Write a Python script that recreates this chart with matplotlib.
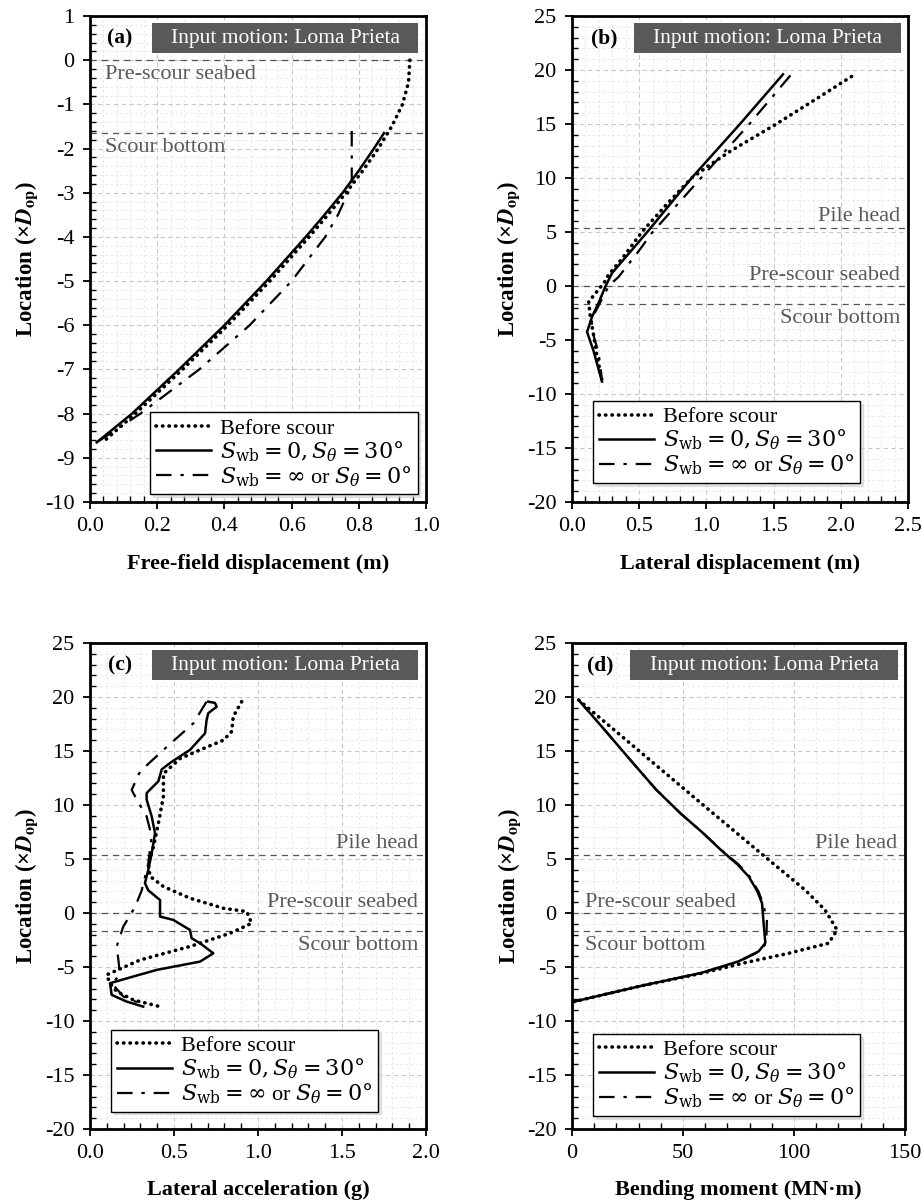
import numpy as np
import matplotlib
matplotlib.use("Agg")
import matplotlib.pyplot as plt
from matplotlib.patches import Rectangle
from matplotlib.ticker import MultipleLocator, FormatStrFormatter
from matplotlib.font_manager import FontProperties
import matplotlib.transforms as mtransforms

plt.rcParams["font.family"] = ["Liberation Serif", "DejaVu Serif"]
plt.rcParams["mathtext.fontset"] = "stix"
plt.rcParams["axes.unicode_minus"] = False

# ---- data (location in x D_op, response value) ----
# (a) free-field displacement (m)
a_before_y = [0.0, -0.5, -1.0, -1.5, -2.0, -2.5, -3.0, -3.5, -4.0, -5.0, -6.0, -7.0, -8.0, -8.6]
a_before_x = [0.952, 0.948, 0.930, 0.898, 0.858, 0.812, 0.762, 0.708, 0.652, 0.535, 0.41, 0.275, 0.135, 0.045]
a_scour_y = [-1.65, -2.0, -2.5, -3.0, -3.5, -4.0, -5.0, -6.0, -7.0, -8.0, -8.65]
a_scour_x = [0.875, 0.845, 0.80, 0.752, 0.698, 0.642, 0.525, 0.40, 0.265, 0.125, 0.02]
a_noscour_y = [-1.6, -2.75, -3.0, -3.5, -4.0, -5.0, -6.0, -7.0, -8.0, -8.65]
a_noscour_x = [0.779, 0.779, 0.768, 0.738, 0.70, 0.60, 0.475, 0.325, 0.15, 0.02]

# (b) lateral displacement (m)
b_before_y = [19.4, 17.5, 15.0, 13.75, 12.5, 11.25, 10.0, 7.5, 5.0, 2.5, 1.0, 0.25, -1.45, -2.85, -4.5, -6.5, -8.7]
b_before_x = [2.08, 1.84, 1.52, 1.35, 1.18, 1.03, 0.89, 0.70, 0.52, 0.37, 0.27, 0.236, 0.124, 0.136, 0.16, 0.186, 0.223]
b_scour_y = [19.6, 15.0, 10.0, 5.0, 1.2, 0.0, -1.5, -2.85, -4.25, -6.0, -8.85]
b_scour_x = [1.57, 1.25, 0.89, 0.56, 0.298, 0.25, 0.20, 0.149, 0.112, 0.16, 0.223]
b_noscour_y = [19.5, 15.0, 10.0, 5.0, 3.3, 0.85, 0.0, -3.0, -4.1, -6.2, -8.7]
b_noscour_x = [1.625, 1.32, 0.96, 0.60, 0.50, 0.347, 0.273, 0.149, 0.149, 0.198, 0.223]

# (c) lateral acceleration (g)
c_before_y = [19.57, 18.2, 16.8, 16.0, 15.1, 14.3, 12.9, 10.8, 8.3, 6.1, 4.6, 3.4, 2.45, 1.37, 0.44,
              0.13, -0.95, -1.88, -3.1, -4.35, -5.73, -6.5, -7.27, -8.05, -8.67]
c_before_x = [0.903, 0.853, 0.843, 0.794, 0.655, 0.536, 0.437, 0.437, 0.407, 0.377, 0.347, 0.357, 0.437, 0.595, 0.794,
              0.933, 0.962, 0.833, 0.595, 0.298, 0.099, 0.119, 0.159, 0.258, 0.417]
c_scour_y = [19.57, 19.45, 19.1, 18.5, 17.87, 16.64, 15.1, 14.0, 13.3, 12.2, 11.1, 10.5, 8.95, 7.4, 5.5, 4.0,
             2.76, 2.1, 1.2, -0.33, -0.64, -1.57, -2.34, -2.8, -3.73, -4.5, -5.27, -5.88, -6.5, -7.58, -8.2, -8.67]
c_scour_x = [0.704, 0.744, 0.754, 0.704, 0.694, 0.685, 0.595, 0.486, 0.427, 0.407, 0.337, 0.337, 0.367, 0.387, 0.367, 0.347,
             0.327, 0.347, 0.417, 0.417, 0.496, 0.595, 0.605, 0.655, 0.734, 0.655, 0.397, 0.258, 0.119, 0.129, 0.218, 0.317]
c_noscour_y = [19.57, 17.56, 15.1, 13.1, 11.4, 10.5, 8.95, 7.1, 4.6, 2.1, 0.56, -1.26, -3.1, -4.35, -5.73, -6.5, -7.73, -8.5]
c_noscour_x = [0.694, 0.615, 0.437, 0.298, 0.248, 0.278, 0.337, 0.367, 0.347, 0.308, 0.268, 0.198, 0.159, 0.169, 0.179, 0.13, 0.198, 0.317]

# (d) bending moment (MN.m)
d_before_y = [19.72, 16.0, 9.84, 5.2, 2.13, 0.28, -1.57, -2.8, -3.73, -4.6, -5.6, -6.8, -8.25]
d_before_x = [3, 24.5, 60, 87, 105, 114, 119.4, 115.6, 97.6, 78, 58, 30, 0]
d_scour_y = [19.72, 17.0, 14.0, 11.4, 9.2, 7.5, 5.85, 4.5, 3.38, 2.0, 0.9, -0.93, -2.78, -3.55, -4.48, -5.56, -6.8, -8.25]
d_scour_x = [3, 14.5, 27, 38, 49, 58.5, 67, 74.5, 79.6, 83.5, 85.6, 86.3, 87.1, 84.1, 75, 58, 30, 0]
d_noscour_y = [19.72, 17.0, 14.0, 11.4, 9.2, 7.5, 5.85, 4.5, 3.38, 2.0, 0.9, -0.6, -2.78, -3.55, -4.48, -5.56, -6.8, -8.25]
d_noscour_x = [3, 14.5, 27, 38, 49, 58.5, 67.2, 75, 80, 84, 86, 87.8, 87.5, 84.5, 75.5, 58, 30, 0]

series_labels = ["Before scour",
                 r"$S_{\mathrm{wb}}=0, S_{\theta}=30°$",
                 r"$S_{\mathrm{wb}}=\infty$ or $S_{\theta}=0°$"]

SEABED = 0.0
SCOUR_BOTTOM = -1.65
PILE_HEAD = 5.4


def style_axis(ax, xlim, ylim, xmaj, xmin, ymaj, ymin, xfmt):
    ax.set_xlim(*xlim)
    ax.set_ylim(*ylim)
    ax.xaxis.set_major_locator(MultipleLocator(xmaj))
    ax.xaxis.set_minor_locator(MultipleLocator(xmin))
    ax.yaxis.set_major_locator(MultipleLocator(ymaj))
    ax.yaxis.set_minor_locator(MultipleLocator(ymin))
    ax.xaxis.set_major_formatter(FormatStrFormatter(xfmt))
    ax.grid(True, which="major", linestyle=(0, (4, 3)), color="#c8c8c8", linewidth=0.8)
    ax.grid(True, which="minor", linestyle=(0, (3, 3)), color="#e4e4e4", linewidth=0.6)
    ax.set_axisbelow(True)
    ax.tick_params(which="major", direction="out", length=5, width=1.3, labelsize=16, pad=6)
    ax.tick_params(which="minor", direction="in", length=4, width=1.0)
    for sp in ax.spines.values():
        sp.set_linewidth(2.0)
        sp.set_color("black")


def add_header(ax, tag, x0, x1, tagx):
    ax.add_patch(Rectangle((x0, 0.923), x1 - x0, 0.063, transform=ax.transAxes,
                           facecolor="#595959", edgecolor="none", zorder=5))
    ax.text((x0 + x1) / 2, 0.954, "Input motion: Loma Prieta", transform=ax.transAxes,
            color="white", fontsize=15.5, ha="center", va="center", zorder=6)
    ax.text(tagx, 0.954, tag, transform=ax.transAxes, fontsize=15.5, fontweight="bold",
            ha="center", va="center", zorder=6)


def add_level(ax, y, label, xpos, ha, above):
    ax.axhline(y, color="#555555", linestyle=(0, (5, 4)), linewidth=0.9, zorder=2)
    trans = mtransforms.blended_transform_factory(ax.transAxes, ax.transData)
    dy = 1.0 if above else -3.5
    ax.annotate(label, xy=(xpos, y), xycoords=trans, xytext=(0, dy), textcoords="offset points",
                ha=ha, va="bottom" if above else "top", color="#595959", fontsize=16, zorder=3)


def plot_series(ax, xs, ys):
    (before_x, before_y), (scour_x, scour_y), (noscour_x, noscour_y) = zip(xs, ys)
    ax.plot(before_x, before_y, color="black", linewidth=2.6, linestyle=(0, (0.1, 1.7)),
            dash_capstyle="round", label=series_labels[0], zorder=4)
    ax.plot(scour_x, scour_y, color="black", linewidth=1.8, linestyle="-", label=series_labels[1], zorder=4)
    ax.plot(noscour_x, noscour_y, color="black", linewidth=1.6, linestyle=(0, (7, 4, 1.5, 4)),
            label=series_labels[2], zorder=4)


def add_legend(ax, loc, anchor):
    prop = FontProperties(family="Liberation Serif", size=16, math_fontfamily="dejavuserif")
    leg = ax.legend(loc=loc, bbox_to_anchor=anchor, borderaxespad=0, prop=prop,
                    handlelength=2.5, handletextpad=0.4, labelspacing=0.02, borderpad=0.25,
                    fancybox=False, framealpha=1, edgecolor="black",
                    shadow={"color": "0.8", "alpha": 0.5})
    leg.get_frame().set_linewidth(1.0)
    leg.set_zorder(7)


fig = plt.figure(figsize=(9.24, 12), dpi=100)
W, H = 924.0, 1200.0
ax_a = fig.add_axes([90 / W, 1 - 502 / H, 336 / W, 486 / H])
ax_b = fig.add_axes([572 / W, 1 - 502 / H, 336 / W, 486 / H])
ax_c = fig.add_axes([90 / W, 1 - 1129 / H, 336 / W, 486 / H])
ax_d = fig.add_axes([572 / W, 1 - 1129 / H, 333 / W, 486 / H])

# (a)
style_axis(ax_a, (0, 1.0), (-10, 1), 0.2, 0.04, 1, 0.2, "%.1f")
add_level(ax_a, SEABED, "Pre-scour seabed", 0.045, "left", False)
add_level(ax_a, SCOUR_BOTTOM, "Scour bottom", 0.045, "left", False)
plot_series(ax_a, [a_before_x, a_scour_x, a_noscour_x], [a_before_y, a_scour_y, a_noscour_y])
add_header(ax_a, "(a)", 0.185, 0.976, 0.089)
add_legend(ax_a, "lower right", (0.975, 0.016))
ax_a.set_xlabel("Free-field displacement (m)", fontsize=16, fontweight="bold")

# (b)
style_axis(ax_b, (0, 2.5), (-20, 25), 0.5, 0.1, 5, 1, "%.1f")
add_level(ax_b, PILE_HEAD, "Pile head", 0.976, "right", True)
add_level(ax_b, SEABED, "Pre-scour seabed", 0.976, "right", True)
add_level(ax_b, SCOUR_BOTTOM, "Scour bottom", 0.976, "right", False)
plot_series(ax_b, [b_before_x, b_scour_x, b_noscour_x], [b_before_y, b_scour_y, b_noscour_y])
add_header(ax_b, "(b)", 0.184, 0.980, 0.097)
add_legend(ax_b, "lower left", (0.0625, 0.039))
ax_b.set_xlabel("Lateral displacement (m)", fontsize=16, fontweight="bold")

# (c)
style_axis(ax_c, (0, 2.0), (-20, 25), 0.5, 0.1, 5, 1, "%.1f")
add_level(ax_c, PILE_HEAD, "Pile head", 0.976, "right", True)
add_level(ax_c, SEABED, "Pre-scour seabed", 0.976, "right", True)
add_level(ax_c, SCOUR_BOTTOM, "Scour bottom", 0.976, "right", False)
plot_series(ax_c, [c_before_x, c_scour_x, c_noscour_x], [c_before_y, c_scour_y, c_noscour_y])
add_header(ax_c, "(c)", 0.185, 0.976, 0.089)
add_legend(ax_c, "lower left", (0.0625, 0.036))
ax_c.set_xlabel("Lateral acceleration (g)", fontsize=16, fontweight="bold")

# (d)
style_axis(ax_d, (0, 150), (-20, 25), 50, 10, 5, 1, "%d")
add_level(ax_d, PILE_HEAD, "Pile head", 0.976, "right", True)
add_level(ax_d, SEABED, "Pre-scour seabed", 0.04, "left", True)
add_level(ax_d, SCOUR_BOTTOM, "Scour bottom", 0.04, "left", False)
plot_series(ax_d, [d_before_x, d_scour_x, d_noscour_x], [d_before_y, d_scour_y, d_noscour_y])
add_header(ax_d, "(d)", 0.175, 0.979, 0.085)
add_legend(ax_d, "lower left", (0.063, 0.027))
ax_d.set_xlabel("Bending moment (MN·m)", fontsize=16, fontweight="bold")

for ax, xl_y in ((ax_a, -0.108), (ax_b, -0.108), (ax_c, -0.104), (ax_d, -0.104)):
    ax.set_ylabel(r"Location (×$\mathbfit{D}_{\mathbf{op}}$)", fontsize=16.5, fontweight="bold")
    ax.yaxis.set_label_coords(-0.148, 0.5)
    ax.xaxis.set_label_coords(0.5, xl_y)

fig.savefig("out.png", dpi=100, facecolor="white")
